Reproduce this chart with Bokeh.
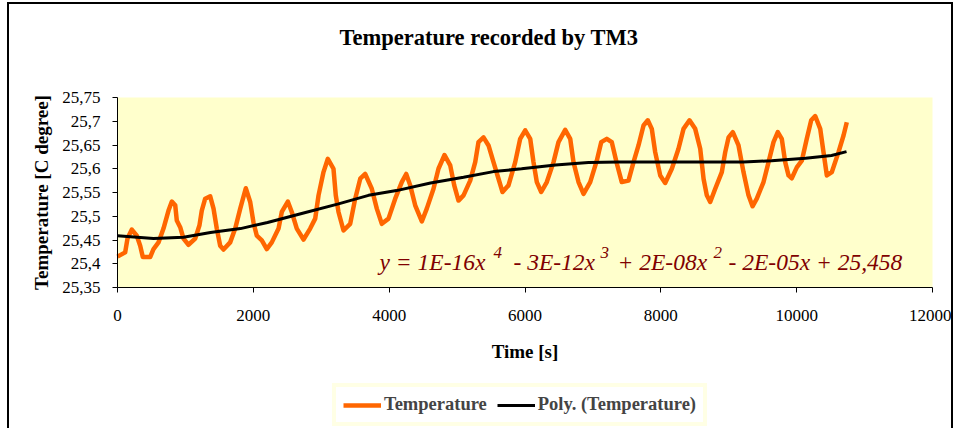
import math
from bokeh.plotting import figure
from bokeh.models import Range1d, FixedTicker, Label, Legend, LegendItem, BoxAnnotation
from bokeh.embed import file_html
from bokeh.resources import INLINE

# ---- data ----
time_s = [0, 113, 147, 211, 284, 334, 373, 481, 530, 604, 677, 751, 800, 850, 873, 923, 972, 1045,
          1144, 1207, 1241, 1291, 1365, 1414, 1462, 1512, 1561, 1659, 1733, 1807, 1889, 1954, 2002,
          2051, 2125, 2198, 2272, 2371, 2419, 2508, 2566, 2640, 2739, 2837, 2911, 2960, 3033, 3097,
          3180, 3214, 3254, 3328, 3426, 3500, 3574, 3647, 3744, 3818, 3892, 3990, 4089, 4186, 4251,
          4310, 4383, 4481, 4554, 4653, 4726, 4815, 4899, 4958, 5021, 5095, 5193, 5267, 5315, 5389,
          5463, 5536, 5610, 5669, 5757, 5856, 5929, 6003, 6077, 6125, 6174, 6239, 6321, 6420, 6493,
          6592, 6666, 6714, 6788, 6862, 6960, 7057, 7122, 7204, 7278, 7352, 7425, 7524, 7598, 7671,
          7745, 7808, 7867, 7917, 7991, 8064, 8162, 8260, 8334, 8422, 8506, 8580, 8629, 8677, 8727,
          8801, 8898, 8948, 8997, 9060, 9144, 9217, 9291, 9350, 9413, 9512, 9586, 9659, 9722, 9781,
          9831, 9880, 9928, 10002, 10076, 10149, 10214, 10273, 10347, 10395, 10444, 10518, 10616,
          10690, 10738]
temp_c = [25.415, 25.424, 25.453, 25.472, 25.459, 25.438, 25.414, 25.414, 25.431, 25.445, 25.474,
          25.512, 25.531, 25.523, 25.491, 25.477, 25.453, 25.440, 25.453, 25.481, 25.512, 25.537,
          25.542, 25.516, 25.474, 25.438, 25.430, 25.445, 25.474, 25.516, 25.559, 25.530, 25.487,
          25.459, 25.449, 25.431, 25.445, 25.474, 25.509, 25.531, 25.509, 25.474, 25.451, 25.474,
          25.495, 25.544, 25.593, 25.621, 25.600, 25.544, 25.509, 25.470, 25.484, 25.537, 25.579,
          25.589, 25.558, 25.516, 25.484, 25.495, 25.537, 25.572, 25.589, 25.565, 25.523, 25.489,
          25.516, 25.558, 25.600, 25.629, 25.607, 25.565, 25.533, 25.544, 25.575, 25.614, 25.656,
          25.666, 25.649, 25.614, 25.579, 25.551, 25.565, 25.614, 25.663, 25.681, 25.663, 25.614,
          25.572, 25.551, 25.572, 25.614, 25.656, 25.682, 25.663, 25.614, 25.572, 25.547, 25.572,
          25.617, 25.656, 25.663, 25.656, 25.611, 25.572, 25.575, 25.614, 25.649, 25.691, 25.702,
          25.684, 25.635, 25.586, 25.570, 25.600, 25.642, 25.684, 25.702, 25.684, 25.642, 25.579,
          25.544, 25.530, 25.558, 25.593, 25.635, 25.666, 25.677, 25.649, 25.593, 25.544, 25.521,
          25.537, 25.572, 25.614, 25.656, 25.677, 25.663, 25.614, 25.586, 25.580, 25.603, 25.617,
          25.663, 25.702, 25.711, 25.684, 25.635, 25.586, 25.593, 25.635, 25.670, 25.698]

poly_time_s = [0, 530, 972, 1369, 1811, 2209, 2768, 3254, 3696, 4108, 4609, 5095, 5536, 5949,
               6449, 6935, 7377, 8290, 9217, 9630, 10130, 10513, 10734]
poly_temp_c = [25.459, 25.453, 25.456, 25.466, 25.474, 25.487, 25.508, 25.526, 25.544, 25.554,
               25.570, 25.582, 25.594, 25.600, 25.608, 25.613, 25.614, 25.614, 25.614, 25.617,
               25.622, 25.628, 25.636]

y_ticks = [25.35, 25.40, 25.45, 25.50, 25.55, 25.60, 25.65, 25.70, 25.75]
y_tick_labels = ["25,35", "25,4", "25,45", "25,5", "25,55", "25,6", "25,65", "25,7", "25,75"]
x_ticks = [0, 2000, 4000, 6000, 8000, 10000, 12000]
x_tick_labels = ["0", "2000", "4000", "6000", "8000", "10000", "12000"]

title_text = "Temperature recorded by TM3"
x_label = "Time [s]"
y_label = "Temperature [C degree]"
series_label = "Temperature"
trend_label = "Poly. (Temperature)"
equation_parts = ["y = 1E-16x", "4", "- 3E-12x", "3", "+ 2E-08x", "2", "- 2E-05x + 25,458"]

# ---- layout (pixels, canvas coordinates) ----
SERIF = "Liberation Serif"
Y_MIN, Y_MAX = 25.35, 25.75          # visible value axis
X_MIN, X_MAX = 0, 12000
CANVAS_W, CANVAS_H = 946, 426
AREA_L, AREA_W = 108, 815             # yellow plot area, from the canvas left
AREA_T, AREA_H = 93, 190              # from the canvas top
ppu_y = AREA_H / (Y_MAX - Y_MIN)
ppu_x = AREA_W / (X_MAX - X_MIN)
y_top = Y_MAX + AREA_T / ppu_y
y_bot = Y_MIN - (CANVAS_H - AREA_T - AREA_H) / ppu_y
x_left = X_MIN - AREA_L / ppu_x
x_right = X_MAX + (CANVAS_W - AREA_L - AREA_W) / ppu_x


def sx(px):   # canvas px -> frame screen x
    return px


def sy(py):   # canvas px from top -> frame screen y (from bottom)
    return CANVAS_H - py


p = figure(width=CANVAS_W, height=CANVAS_H, output_backend="svg", toolbar_location=None,
           x_range=Range1d(x_left, x_right), y_range=Range1d(y_bot, y_top),
           min_border=0, min_border_left=0, min_border_right=0, min_border_top=0,
           min_border_bottom=0)
p.styles = {"margin-left": "7px", "margin-top": "2px",
            "border-left": "2px solid black", "border-top": "2px solid black",
            "border-right": "2px solid black"}
p.background_fill_color = "white"
p.border_fill_color = "white"
p.outline_line_color = None
p.grid.grid_line_color = None

p.add_layout(BoxAnnotation(left=X_MIN, right=X_MAX, bottom=Y_MIN, top=Y_MAX,
                           fill_color="#FFFFCC", fill_alpha=1.0, line_color=None,
                           level="underlay"))

# axes
p.xaxis.fixed_location = Y_MIN
p.yaxis.fixed_location = X_MIN
p.xaxis.bounds = (X_MIN, X_MAX)
p.yaxis.bounds = (Y_MIN, Y_MAX)
p.xaxis.ticker = FixedTicker(ticks=x_ticks)
p.yaxis.ticker = FixedTicker(ticks=y_ticks)
p.xaxis.major_label_overrides = {t: s for t, s in zip(x_ticks, x_tick_labels)}
p.yaxis.major_label_overrides = {t: s for t, s in zip(y_ticks, y_tick_labels)}
for ax in (p.xaxis, p.yaxis):
    ax.axis_line_color = "black"
    ax.axis_line_width = 1
    ax.major_tick_line_color = "black"
    ax.major_tick_out = 5
    ax.major_tick_in = 0
    ax.minor_tick_line_color = None
    ax.major_label_text_font = SERIF
    ax.major_label_text_font_size = "17px"
    ax.major_label_text_color = "black"
p.xaxis.major_label_standoff = 17
p.yaxis.major_label_standoff = 12

# axis titles (centred on the plot area)
p.add_layout(Label(x=sx(AREA_L + AREA_W / 2), y=sy(347), x_units="screen", y_units="screen",
                   text=x_label, text_font=SERIF, text_font_style="bold",
                   text_font_size="19px", text_align="center", text_baseline="middle",
                   text_color="black"))
p.add_layout(Label(x=sx(32), y=sy(AREA_T + AREA_H / 2), x_units="screen", y_units="screen",
                   text=y_label, angle=math.pi / 2, text_font=SERIF, text_font_style="bold",
                   text_font_size="19px", text_align="center", text_baseline="middle",
                   text_color="black"))

r1 = p.line(time_s, temp_c, line_color="#FF6600", line_width=4.5, line_join="round")
r2 = p.line(poly_time_s, poly_temp_c, line_color="black", line_width=3)

# legend below the plot area
legend = Legend(items=[LegendItem(label=series_label, renderers=[r1]),
                       LegendItem(label=trend_label, renderers=[r2])],
                orientation="horizontal", location=(sx(323), sy(414) - 8),
                border_line_color="#FFFFCC", border_line_width=4,
                background_fill_color="white", background_fill_alpha=1.0,
                label_text_font=SERIF, label_text_font_style="bold",
                label_text_font_size="18.5px", glyph_width=38, glyph_height=16,
                label_height=20, label_standoff=3, spacing=10, padding=7, margin=0)
p.add_layout(legend)

# title
p.add_layout(Label(x=sx(479.5), y=sy(33), x_units="screen", y_units="screen",
                   text=title_text, text_font=SERIF, text_font_style="bold",
                   text_font_size="22.5px", text_align="center", text_baseline="middle",
                   text_color="black"))

# trendline equation
eq_x = [3858, 5536, 5830, 7110, 7362, 8776, 8997]
eq_sup = [False, True, False, True, False, True, False]
for txt, xx, sup in zip(equation_parts, eq_x, eq_sup):
    p.add_layout(Label(x=xx, y=25.423 if sup else 25.403, text=txt,
                       text_font=SERIF, text_font_style="italic",
                       text_font_size="17px" if sup else "23.5px",
                       text_color="#800000", text_align="left", text_baseline="alphabetic"))

open("out.html", "w").write(file_html(p, INLINE))
